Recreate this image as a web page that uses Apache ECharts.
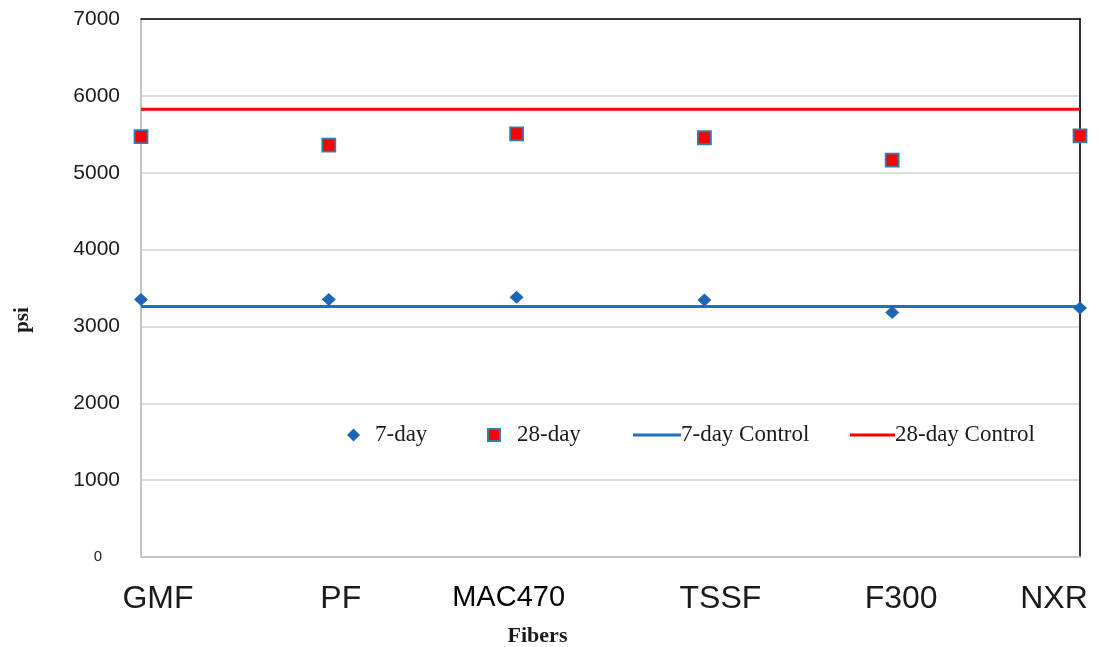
<!DOCTYPE html>
<html>
<head>
<meta charset="utf-8">
<script src="https://cdn.jsdelivr.net/npm/echarts@6/dist/echarts.min.js"></script>
<style>
  html, body { margin: 0; padding: 0; background: #fff; }
  #chart { width: 1100px; height: 647px; }
</style>
</head>
<body>
<div id="chart"></div>
<script>
// Compressive strength (psi) per fiber type
const categories = ['GMF', 'PF', 'MAC470', 'TSSF', 'F300', 'NXR'];
const day7 = [3350, 3350, 3380, 3345, 3180, 3240];
const day28 = [5470, 5360, 5505, 5455, 5165, 5480];
const control7 = [3260, 3260, 3260, 3260, 3260, 3260];
const control28 = [5825, 5825, 5825, 5825, 5825, 5825];
const yTicks = [0, 1000, 2000, 3000, 4000, 5000, 6000, 7000];

// per-label horizontal nudges for the category labels (px, + = right)
const labelNudge = [17, 12, -8, 16, 9, -26];

const serif = '"Liberation Serif", "Times New Roman", serif';
const sans = '"Liberation Sans", Arial, sans-serif';

const rich = {};
categories.forEach((c, i) => {
  const n = labelNudge[i];
  const big = i !== 2;
  rich['c' + i] = {
    fontFamily: sans,
    fontSize: big ? 32 : 29,
    color: big ? '#1a1a1a' : '#000',
    padding: n >= 0 ? [0, 0, 0, 2 * n] : [0, -2 * n, 0, 0]
  };
});

const chart = echarts.init(document.getElementById('chart'));

function legendBox(name, left, w, h, textPad, opts) {
  return Object.assign({
    data: [name],
    left: left,
    top: 418,
    itemWidth: w,
    itemHeight: h,
    textStyle: {
      fontFamily: serif, fontSize: 23, color: '#1a1a1a', lineHeight: 24,
      padding: [0, 0, 0, textPad]
    }
  }, opts || {});
}

chart.setOption({
  animation: false,
  backgroundColor: '#fff',
  grid: { left: 141, right: 20, top: 19, bottom: 90, containLabel: false, outerBoundsMode: 'none' },
  legend: [
    legendBox('7-day', 342, 13, 13, 10),
    legendBox('28-day', 482, 12, 12, 12),
    legendBox('7-day Control', 628, 48, 3, -5, { icon: 'rect', symbolKeepAspect: false }),
    legendBox('28-day Control', 845, 45, 3, -5, { icon: 'rect', symbolKeepAspect: false })
  ],
  xAxis: [
    {
      type: 'category',
      data: categories,
      boundaryGap: false,
      axisLine: { show: true, lineStyle: { color: '#c4c4c4', width: 2 } },
      axisTick: { show: false },
      splitLine: { show: false },
      axisLabel: {
        interval: 0,
        margin: 26,
        formatter: (v, i) => '{c' + i + '|' + v + '}',
        rich: rich
      },
      name: 'Fibers',
      nameLocation: 'middle',
      nameGap: 68,
      nameTextStyle: {
        fontFamily: serif, fontWeight: 'bold', fontSize: 22, color: '#1a1a1a',
        padding: [0, 146, 0, 0]
      }
    },
    {
      // top frame edge
      type: 'category',
      data: categories,
      boundaryGap: false,
      position: 'top',
      axisLine: { show: true, onZero: false, lineStyle: { color: '#000', width: 1.5 } },
      axisTick: { show: false },
      axisLabel: { show: false },
      splitLine: { show: false }
    }
  ],
  yAxis: [
    {
      type: 'value',
      min: yTicks[0],
      max: yTicks[yTicks.length - 1],
      interval: 1000,
      axisLine: { show: true, lineStyle: { color: '#c4c4c4', width: 2 } },
      axisTick: { show: false },
      splitLine: { show: true, lineStyle: { color: '#d2d2d2', width: 1.5 } },
      axisLabel: {
        margin: 21,
        fontFamily: sans,
        fontSize: 21,
        color: '#1a1a1a',
        formatter: v => (v === 0 ? '{z|0}' : String(v)),
        rich: { z: { fontFamily: sans, fontSize: 15, color: '#1a1a1a', padding: [0, 18, 0, 0] } }
      },
      name: 'psi',
      nameLocation: 'middle',
      nameGap: 108,
      nameRotate: 90,
      nameTextStyle: {
        fontFamily: serif, fontWeight: 'bold', fontSize: 21, color: '#1a1a1a',
        padding: [0, 64, 0, 0]
      }
    },
    {
      // right frame edge
      type: 'value',
      min: yTicks[0],
      max: yTicks[yTicks.length - 1],
      interval: 1000,
      position: 'right',
      axisLine: { show: true, onZero: false, lineStyle: { color: '#333', width: 2 } },
      axisTick: { show: false },
      axisLabel: { show: false },
      splitLine: { show: false }
    }
  ],
  series: [
    {
      name: '7-day Control',
      type: 'line',
      data: control7,
      symbol: 'none',
      lineStyle: { color: '#1f6fc5', width: 3 },
      itemStyle: { color: '#1f6fc5' },
      z: 2
    },
    {
      name: '28-day Control',
      type: 'line',
      data: control28,
      symbol: 'none',
      lineStyle: { color: '#ff0000', width: 3 },
      itemStyle: { color: '#ff0000' },
      z: 2
    },
    {
      name: '7-day',
      type: 'scatter',
      data: day7,
      symbol: 'diamond',
      symbolSize: [14, 13],
      itemStyle: { color: '#1c66b8', opacity: 1 },
      z: 4
    },
    {
      name: '28-day',
      type: 'scatter',
      data: day28,
      symbol: 'rect',
      symbolSize: 13,
      itemStyle: { color: '#ff0000', borderColor: '#2f7fae', borderWidth: 1.8, opacity: 1 },
      z: 4
    }
  ]
});
</script>
</body>
</html>
